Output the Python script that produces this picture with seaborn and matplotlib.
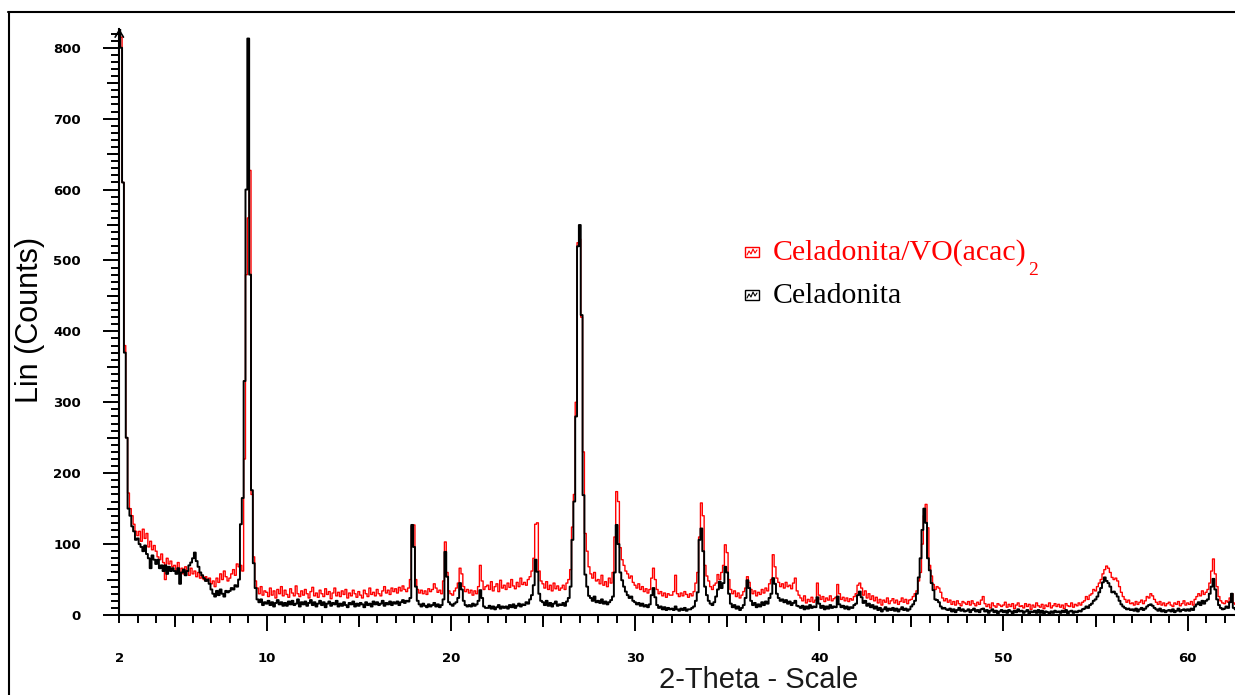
import numpy as np
import pandas as pd
import matplotlib
matplotlib.use("Agg")
import matplotlib.pyplot as plt
import seaborn as sns
from matplotlib.patches import Rectangle
from matplotlib.lines import Line2D

# 2-theta scan grid (degrees), 0.1 degree step from 2.0 to 62.6
two_theta = np.round(np.arange(2.0, 62.65, 0.1), 1)

# Celadonita/VO(acac)2 counts, one row per degree (x.0 ... x.9)
counts_vo = [
    826, 815, 610, 380, 250, 172, 150, 140, 128, 118,
    112, 118, 104, 121, 108, 115, 96, 104, 92, 98,
    90, 82, 78, 86, 74, 50, 80, 72, 76, 68,
    70, 62, 74, 60, 66, 58, 68, 62, 56, 66,
    58, 62, 54, 60, 52, 56, 50, 54, 48, 52,
    44, 48, 40, 52, 46, 58, 50, 62, 54, 48,
    52, 58, 64, 56, 72, 68, 70, 62, 220, 480,
    560, 627, 170, 82, 48, 38, 30, 40, 28, 34,
    32, 26, 38, 28, 34, 24, 36, 30, 40, 27,
    35, 29, 25, 37, 31, 27, 41, 30, 26, 34,
    28, 36, 30, 24, 33, 39, 27, 31, 25, 35,
    30, 26, 37, 29, 33, 23, 31, 38, 27, 32,
    26, 34, 29, 36, 24, 31, 27, 35, 30, 25,
    33, 28, 24, 35, 30, 26, 38, 29, 32, 27,
    36, 30, 27, 34, 40, 31, 35, 29, 38, 33,
    37, 31, 39, 34, 41, 36, 33, 38, 50, 125,
    127, 50, 36, 31, 35, 30, 34, 29, 37, 33,
    36, 44, 38, 32, 35, 30, 48, 103, 60, 34,
    30, 28, 34, 38, 45, 66, 58, 40, 33, 36,
    31, 35, 28, 34, 30, 40, 70, 48, 36, 40,
    42, 36, 47, 34, 40, 44, 33, 49, 38, 42,
    36, 45, 39, 50, 41, 37, 46, 40, 52, 43,
    46, 42, 50, 54, 62, 80, 128, 130, 62, 48,
    44, 38, 47, 36, 42, 34, 45, 37, 41, 35,
    38, 42, 36, 45, 50, 64, 124, 170, 300, 525,
    530, 420, 230, 115, 90, 68, 58, 52, 60, 48,
    50, 44, 56, 42, 47, 40, 52, 45, 60, 110,
    174, 160, 95, 78, 70, 62, 58, 52, 55, 46,
    42, 38, 44, 36, 40, 33, 37, 31, 36, 52,
    66, 50, 36, 30, 33, 27, 31, 25, 30, 28,
    28, 33, 56, 30, 26, 31, 27, 33, 29, 25,
    30, 27, 33, 45, 60, 110, 158, 140, 70, 55,
    48, 40, 36, 42, 45, 57, 50, 60, 70, 99,
    88, 50, 36, 30, 34, 26, 31, 24, 28, 33,
    38, 54, 46, 36, 30, 34, 27, 32, 29, 36,
    31, 38, 34, 44, 50, 85, 68, 52, 46, 40,
    44, 38, 46, 40, 42, 37, 45, 52, 34, 28,
    24, 20, 27, 17, 22, 19, 25, 18, 21, 45,
    28, 22, 26, 19, 24, 21, 27, 20, 23, 25,
    43, 30, 22, 25, 20, 24, 19, 23, 21, 26,
    30, 42, 45, 38, 28, 34, 24, 30, 22, 27,
    20, 25, 17, 22, 14, 21, 18, 24, 16, 20,
    23, 17, 21, 15, 19, 24, 18, 22, 16, 21,
    22, 26, 30, 34, 48, 60, 100, 140, 156, 123,
    70, 55, 43, 36, 40, 38, 32, 24, 20, 23,
    18, 21, 15, 19, 14, 20, 16, 13, 19, 17,
    15, 19, 14, 20, 16, 13, 18, 15, 21, 26,
    16, 12, 15, 10, 17, 13, 11, 16, 14, 12,
    14, 18, 11, 15, 12, 16, 9, 14, 17, 12,
    13, 10, 16, 12, 15, 8, 14, 11, 17, 13,
    11, 15, 9, 14, 12, 17, 10, 13, 16, 12,
    15, 11, 14, 9, 16, 13, 12, 17, 11, 15,
    13, 17, 14, 18, 20, 26, 22, 28, 30, 36,
    34, 40, 45, 50, 58, 64, 69, 66, 60, 53,
    50, 52, 48, 40, 32, 26, 22, 18, 21, 16,
    17, 14, 19, 15, 18, 21, 16, 20, 26, 24,
    30, 27, 22, 18, 15, 19, 14, 17, 13, 16,
    18, 14, 12, 17, 15, 19, 13, 16, 20, 14,
    17, 15, 19, 14, 22, 26, 30, 27, 34, 29,
    32, 36, 45, 62, 79, 58, 40, 26, 20, 17,
    16, 20, 18, 24, 30, 17, 15,
]

# Celadonita counts, same grid
counts_cel = [
    826, 800, 610, 370, 250, 150, 140, 125, 118, 106,
    108, 100, 96, 90, 98, 86, 80, 66, 84, 78,
    72, 78, 66, 70, 62, 70, 58, 68, 62, 66,
    62, 58, 66, 44, 60, 64, 56, 62, 70, 74,
    80, 88, 76, 68, 60, 56, 52, 48, 50, 44,
    36, 30, 26, 34, 28, 36, 30, 26, 34, 32,
    34, 38, 36, 42, 40, 50, 128, 165, 330, 600,
    813, 480, 176, 73, 38, 22, 18, 22, 14, 18,
    16, 20, 14, 18, 12, 17, 21, 15, 18, 13,
    17, 13, 19, 15, 20, 14, 16, 22, 12, 18,
    15, 19, 13, 17, 21, 14, 18, 12, 16, 20,
    14, 18, 11, 16, 19, 13, 17, 15, 20, 12,
    16, 13, 18, 14, 11, 17, 15, 19, 12, 16,
    13, 17, 15, 11, 18, 14, 16, 12, 19, 15,
    18, 14, 16, 20, 13, 17, 15, 19, 14, 18,
    16, 19, 14, 18, 21, 17, 20, 19, 24, 127,
    96, 40, 20, 15, 12, 16, 13, 11, 15, 12,
    14, 17, 12, 15, 11, 14, 22, 89, 54, 18,
    15, 13, 16, 18, 24, 45, 36, 20, 14, 12,
    14, 12, 16, 13, 15, 20, 35, 24, 12, 10,
    10, 13, 9, 12, 8, 11, 14, 9, 12, 10,
    12, 9, 14, 11, 15, 10, 13, 16, 12, 15,
    14, 18, 16, 22, 28, 42, 78, 61, 30, 20,
    18, 14, 20, 13, 17, 12, 16, 19, 13, 15,
    14, 17, 13, 19, 24, 40, 106, 160, 280, 520,
    550, 423, 169, 57, 40, 27, 24, 20, 26, 18,
    20, 17, 22, 16, 19, 15, 18, 21, 26, 60,
    127, 100, 60, 49, 40, 33, 28, 24, 26, 20,
    18, 15, 17, 13, 16, 12, 14, 11, 15, 28,
    38, 25, 14, 10, 12, 8, 11, 7, 10, 8,
    9, 7, 12, 8, 6, 9, 7, 10, 6, 8,
    8, 10, 12, 20, 32, 106, 122, 90, 40, 28,
    20, 16, 14, 18, 26, 36, 47, 38, 45, 68,
    60, 30, 16, 11, 14, 9, 12, 7, 10, 14,
    24, 49, 38, 20, 14, 17, 11, 15, 12, 18,
    14, 19, 16, 24, 30, 52, 44, 30, 24, 20,
    22, 18, 21, 16, 19, 14, 17, 20, 13, 12,
    10, 13, 8, 12, 9, 14, 10, 12, 11, 25,
    16, 10, 13, 8, 12, 9, 14, 10, 12, 11,
    26, 15, 11, 13, 9, 12, 8, 11, 10, 14,
    16, 28, 33, 25, 17, 20, 13, 16, 11, 14,
    9, 12, 7, 10, 5, 8, 11, 6, 9, 7,
    10, 6, 9, 5, 8, 11, 7, 9, 6, 8,
    12, 15, 20, 30, 53, 80, 120, 150, 130, 80,
    63, 45, 35, 22, 21, 18, 12, 9, 10, 8,
    7, 9, 5, 8, 4, 7, 10, 6, 8, 5,
    6, 8, 4, 7, 9, 5, 7, 4, 8, 9,
    5, 7, 3, 6, 8, 4, 6, 2, 5, 7,
    4, 6, 3, 7, 5, 2, 6, 4, 8, 5,
    6, 3, 5, 7, 2, 5, 4, 6, 3, 7,
    3, 6, 2, 5, 4, 1, 5, 3, 6, 4,
    5, 3, 6, 4, 7, 2, 5, 6, 3, 5,
    4, 6, 5, 8, 9, 12, 10, 14, 16, 20,
    22, 26, 32, 38, 46, 53, 48, 45, 40, 32,
    33, 30, 26, 20, 15, 12, 10, 8, 9, 7,
    8, 6, 9, 5, 8, 10, 7, 9, 12, 14,
    15, 13, 10, 8, 6, 9, 5, 7, 4, 6,
    7, 5, 8, 4, 6, 9, 5, 7, 8, 6,
    8, 6, 9, 7, 12, 15, 18, 14, 20, 16,
    20, 22, 30, 40, 51, 36, 22, 14, 10, 8,
    9, 12, 10, 18, 30, 10, 8,
]

x_major = [10, 20, 30, 40, 50, 60]
x_mid = [5, 15, 25, 35, 45, 55]
x_minor = list(range(2, 63))
y_major = list(range(0, 801, 100))
y_mid = list(range(50, 800, 100))
y_minor = list(range(0, 821, 10))

series_names = ["Celadonita/VO(acac)", "Celadonita"]
series_colors = ["#ff0000", "#000000"]

assert len(counts_vo) == len(two_theta) == len(counts_cel)

df = pd.DataFrame({"two_theta": two_theta,
                   "vo": counts_vo,
                   "cel": counts_cel})

sns.set_style("ticks")
plt.rcParams["font.family"] = ["Liberation Sans", "DejaVu Sans"]
plt.rcParams["axes.linewidth"] = 1.5

W, H = 1235, 695
fig = plt.figure(figsize=(W / 100, H / 100), dpi=100)
fig.patch.set_facecolor("white")

x_left_px, x_zero_px, y_top_px = 119.3, 615.0, 28.6
ax = fig.add_axes([x_left_px / W, (H - x_zero_px) / H,
                   1 - x_left_px / W, (x_zero_px - y_top_px) / H])
ax.set_facecolor("white")

sns.lineplot(data=df, x="two_theta", y="vo", color=series_colors[0],
             lw=1.0, drawstyle="steps-mid", estimator=None, ax=ax)
sns.lineplot(data=df, x="two_theta", y="cel", color=series_colors[1],
             lw=1.4, drawstyle="steps-mid", estimator=None, ax=ax)

ax.set_xlim(2, 62.57)
ax.set_ylim(0, 827)
for side in ("top", "right"):
    ax.spines[side].set_visible(False)
ax.spines["left"].set_color("black")
ax.spines["bottom"].set_color("black")

tick_font = dict(fontfamily="DejaVu Sans", fontweight="bold", fontsize=9.5)
ax.set_xticks(x_major, labels=[str(v) for v in x_major], **tick_font)
ax.set_xticks(x_minor, labels=["2" if v == 2 else "" for v in x_minor],
              minor=True, **tick_font)
ax.set_yticks(y_major, labels=[str(v) for v in y_major], **tick_font)
ax.set_yticks(y_minor, minor=True)

ax.tick_params(axis="x", which="major", direction="out", length=11.5,
               width=1.4, pad=15.0, colors="black")
ax.tick_params(axis="x", which="minor", direction="out", length=5.8,
               width=1.4, pad=20.8, colors="black")
ax.tick_params(axis="y", which="major", direction="out", length=11.5,
               width=1.4, pad=16.0, colors="black")
ax.tick_params(axis="y", which="minor", direction="out", length=5.8,
               width=1.4, colors="black")

# intermediate tick marks at every fifth unit / fifty counts
secx = ax.secondary_xaxis("bottom")
secx.set_xticks(x_mid)
secx.tick_params(length=8.6, width=1.4, labelbottom=False, colors="black")
secx.spines["bottom"].set_visible(False)
secy = ax.secondary_yaxis("left")
secy.set_yticks(y_mid)
secy.tick_params(length=8.6, width=1.4, labelleft=False, colors="black")
secy.spines["left"].set_visible(False)

# arrow head on the counts axis
ax.annotate("", xy=(0, 1.0), xycoords="axes fraction",
            xytext=(0, 0.975), textcoords="axes fraction",
            arrowprops=dict(arrowstyle="->,head_length=0.5,head_width=0.3",
                            color="black", lw=1.2, shrinkA=0, shrinkB=0),
            annotation_clip=False)

# axis titles
ax.set_xlabel("2-Theta - Scale", fontsize=21, color="#1a1a1a",
              fontfamily="Liberation Sans")
ax.xaxis.label.set_verticalalignment("baseline")
ax.xaxis.set_label_coords((759 - x_left_px) / (W - x_left_px),
                          (x_zero_px - 688.5) / (x_zero_px - y_top_px))
ax.set_ylabel("Lin (Counts)", fontsize=22, color="black",
              fontfamily="Liberation Sans")
ax.yaxis.label.set_verticalalignment("center")
ax.yaxis.set_label_coords((30 - x_left_px) / (W - x_left_px),
                          (x_zero_px - 320) / (x_zero_px - y_top_px))


def fx(px):
    return px / W


def fy(py):
    return 1 - py / H


# outer frame (left and top edges)
fig.add_artist(Line2D([fx(9), fx(9)], [fy(11.5), 0], color="black",
                      lw=1.5, transform=fig.transFigure))
fig.add_artist(Line2D([fx(8.3), 1], [fy(11.5), fy(11.5)], color="black",
                      lw=1.5, transform=fig.transFigure))

# legend: small chart icon followed by the series name
baselines = [260, 303]
for name, color, base in zip(series_names, series_colors, baselines):
    top = base - 13
    fig.add_artist(Rectangle((fx(745), fy(top + 10)), 14 / W, 10 / H,
                             facecolor="white", edgecolor=color, lw=1.0,
                             transform=fig.transFigure))
    zx = [747, 749, 751, 753, 755, 757]
    zy = [top + 8, top + 4, top + 7, top + 2, top + 6, top + 3]
    fig.add_artist(Line2D([fx(v) for v in zx], [fy(v) for v in zy],
                          color=color, lw=0.8, transform=fig.transFigure))
    t = fig.text(fx(773), fy(base), name, color=color, fontsize=21.5,
                 fontfamily="Liberation Serif", va="baseline", ha="left")
    if name.endswith(")"):
        fig.canvas.draw()
        bb = t.get_window_extent(renderer=fig.canvas.get_renderer())
        fig.text(bb.x1 / W + 1.5 / W, fy(275), "2", color=color,
                 fontsize=14, fontfamily="Liberation Serif",
                 va="baseline", ha="left")

fig.savefig("out.png", dpi=100, facecolor="white")
